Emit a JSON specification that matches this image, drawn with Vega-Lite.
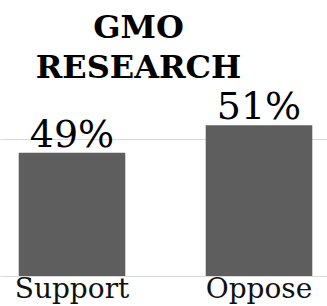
{
  "$schema": "https://vega.github.io/schema/vega-lite/v6.json",
  "autosize": "none",
  "width": 331,
  "height": 274,
  "padding": {"left": 0, "top": 2, "right": 0, "bottom": 30},
  "background": "white",
  "config": {"view": {"stroke": null}},
  "title": {
    "text": ["GMO", "RESEARCH"],
    "font": "DejaVu Serif",
    "fontSize": 32,
    "fontWeight": "bold",
    "color": "#000000",
    "anchor": "middle",
    "frame": "group",
    "lineHeight": 40,
    "dx": -27,
    "dy": 87
  },
  "data": {
    "values": [
      {"stance": "Support", "pct": 49, "label": "49%"},
      {"stance": "Oppose", "pct": 51, "label": "51%"}
    ]
  },
  "encoding": {
    "x": {
      "field": "stance",
      "type": "nominal",
      "sort": null,
      "scale": {"paddingInner": 0.43, "paddingOuter": 0.1},
      "axis": {
        "title": null,
        "domain": false,
        "ticks": false,
        "grid": false,
        "labelAngle": 0,
        "labelFont": "DejaVu Serif",
        "labelFontSize": 28,
        "labelColor": "#111111",
        "labelPadding": -1
      }
    }
  },
  "layer": [
    {
      "mark": {"type": "bar", "color": "#5e5e5e"},
      "encoding": {
        "y": {
          "field": "pct",
          "type": "quantitative",
          "scale": {"domain": [40, 60], "zero": false},
          "axis": {
            "title": null,
            "values": [40, 50],
            "labels": false,
            "ticks": false,
            "domain": false,
            "grid": true,
            "gridColor": "#d9d9d9",
            "gridWidth": 1
          }
        },
        "y2": {"datum": 40}
      }
    },
    {
      "mark": {
        "type": "text",
        "font": "DejaVu Serif",
        "fontSize": 38,
        "color": "#000000",
        "baseline": "alphabetic",
        "dy": -6
      },
      "encoding": {
        "y": {"field": "pct", "type": "quantitative"},
        "text": {"field": "label"}
      }
    }
  ]
}
